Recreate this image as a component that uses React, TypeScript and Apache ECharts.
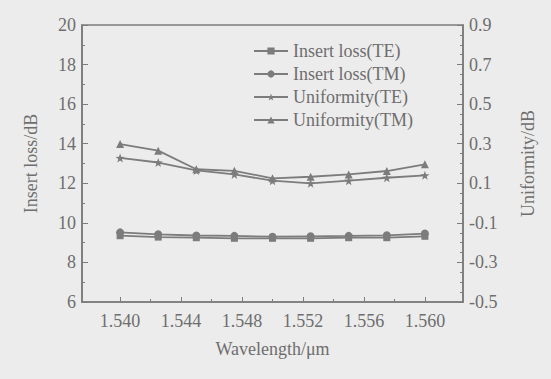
import React, { useEffect, useRef } from "react";
import * as echarts from "echarts";

const wavelengths = [1.54, 1.5425, 1.545, 1.5475, 1.55, 1.5525, 1.555, 1.5575, 1.56];
const insertLossTE = [9.35, 9.28, 9.25, 9.22, 9.22, 9.22, 9.25, 9.25, 9.32];
const insertLossTM = [9.52, 9.42, 9.36, 9.34, 9.3, 9.32, 9.34, 9.37, 9.46];
const uniformityTE = [0.228, 0.205, 0.165, 0.145, 0.113, 0.1, 0.113, 0.128, 0.14];
const uniformityTM = [0.298, 0.265, 0.171, 0.163, 0.125, 0.133, 0.145, 0.162, 0.196];
const xLabelValues = [1.54, 1.544, 1.548, 1.552, 1.556, 1.56];
const xMinorTickValues = [1.542, 1.546, 1.55, 1.554, 1.558];

const STAR =
  "path://M0,-10L2.35,-3.24L9.51,-3.09L3.8,1.24L5.88,8.09L0,4L-5.88,8.09L-3.8,1.24L-9.51,-3.09L-2.35,-3.24Z";

const INK = "#6e6e6e";
const LINE = "#7c7c7c";
const FONT = "'Liberation Serif', 'Times New Roman', serif";

const pairs = (ys: number[]) => wavelengths.map((x, i) => [x, ys[i]]);

export default function App() {
  const ref = useRef<HTMLDivElement>(null);
  useEffect(() => {
    if (!ref.current) return;
    const chart = echarts.init(ref.current, undefined, { renderer: "svg" });
    const axisLine = { show: true, onZero: false, lineStyle: { color: LINE, width: 1.6 } };
    const labelStyle = { color: INK, fontFamily: FONT, fontSize: 18 };
    const lineSeries = (name: string, data: number[], symbol: string, yAxisIndex: number, size: number) => ({
      name,
      type: "line",
      yAxisIndex,
      data: pairs(data),
      symbol,
      symbolSize: size,
      lineStyle: { color: LINE, width: 1.8 },
      itemStyle: { color: LINE },
      emphasis: { disabled: true },
    });
    chart.setOption({
      animation: false,
      backgroundColor: "#ececec",
      textStyle: { fontFamily: FONT },
      grid: {
        left: 82,
        right: 88,
        top: 25,
        bottom: 77,
        show: true,
        borderColor: LINE,
        borderWidth: 1.6,
        backgroundColor: "transparent",
      },
      legend: {
        orient: "vertical",
        left: 248,
        top: 37,
        itemWidth: 34,
        itemHeight: 9,
        itemGap: 5,
        textStyle: { color: INK, fontFamily: FONT, fontSize: 18 },
        data: ["Insert loss(TE)", "Insert loss(TM)", "Uniformity(TE)", "Uniformity(TM)"],
      },
      xAxis: [
        {
          type: "value",
          min: 1.5375,
          max: 1.5625,
          name: "Wavelength/\u03bcm",
          nameLocation: "middle",
          nameGap: 38,
          nameTextStyle: { ...labelStyle, fontSize: 18 },
          axisLine,
          splitLine: { show: false },
          axisTick: { show: true, inside: true, length: 5, customValues: xLabelValues, lineStyle: { color: LINE } },
          axisLabel: {
            ...labelStyle,
            margin: 10,
            customValues: xLabelValues,
            formatter: (v: number) => v.toFixed(3),
          },
        },
        {
          type: "value",
          position: "bottom",
          min: 1.5375,
          max: 1.5625,
          axisLine: { show: false, onZero: false },
          splitLine: { show: false },
          axisTick: { show: true, inside: true, length: 3, customValues: xMinorTickValues, lineStyle: { color: LINE } },
          axisLabel: { show: false },
        },
      ],
      yAxis: [
        {
          type: "value",
          min: 6,
          max: 20,
          interval: 2,
          name: "Insert loss/dB",
          nameLocation: "middle",
          nameGap: 42,
          nameTextStyle: labelStyle,
          axisLine,
          splitLine: { show: false },
          axisTick: { show: true, inside: true, length: 6, lineStyle: { color: LINE } },
          minorTick: { show: true, splitNumber: 2, length: 3, lineStyle: { color: LINE } },
          axisLabel: { ...labelStyle, margin: 6 },
        },
        {
          type: "value",
          min: -0.5,
          max: 0.9,
          interval: 0.2,
          position: "right",
          name: "Uniformity/dB",
          nameLocation: "middle",
          nameGap: 56,
          nameRotate: 90,
          nameTextStyle: labelStyle,
          axisLine,
          splitLine: { show: false },
          axisTick: { show: true, inside: true, length: 6, lineStyle: { color: LINE } },
          minorTick: { show: true, splitNumber: 4, length: 3, lineStyle: { color: LINE } },
          axisLabel: { ...labelStyle, margin: 6, formatter: (v: number) => v.toFixed(1) },
        },
      ],
      series: [
        lineSeries("Insert loss(TE)", insertLossTE, "rect", 0, 7),
        lineSeries("Insert loss(TM)", insertLossTM, "circle", 0, 8),
        lineSeries("Uniformity(TE)", uniformityTE, STAR, 1, 9),
        lineSeries("Uniformity(TM)", uniformityTM, "triangle", 1, 8),
      ],
    });
    return () => chart.dispose();
  }, []);
  return (
    <div
      ref={ref}
      style={{ position: "fixed", left: 0, top: 0, width: 551, height: 379 }}
    />
  );
}
